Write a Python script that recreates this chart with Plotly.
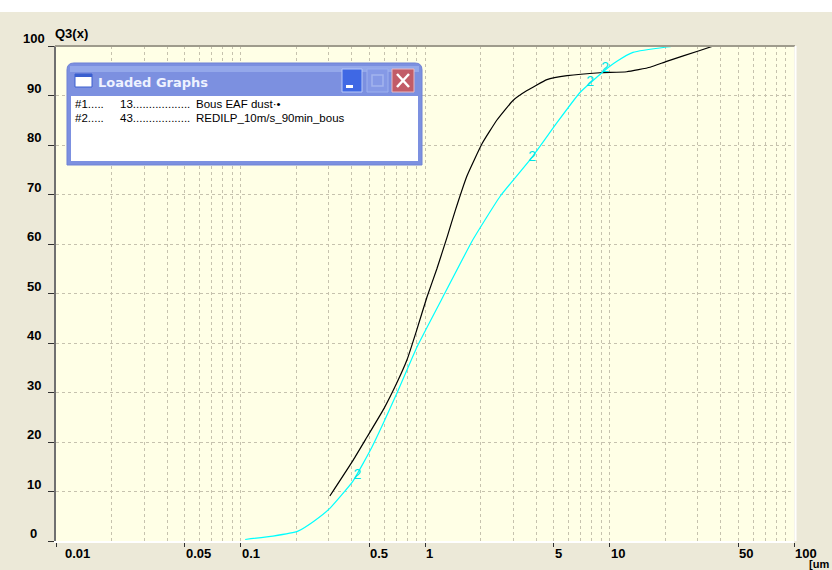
import math
import plotly.graph_objects as go

# ---------------- data ----------------
black_x = [0.305, 0.409, 0.485, 0.60, 0.705, 0.799, 0.90, 1.025, 1.16, 1.32, 1.46, 1.69, 2.04, 2.46, 3.0, 3.57, 4.58, 5.89, 8.87, 12.4, 16.6, 20.4, 30.9, 36.6]
black_q = [9.1, 16.4, 21.0, 26.8, 32.0, 36.6, 42.5, 49.3, 55.0, 61.5, 66.8, 73.8, 80.3, 85.1, 89.0, 91.0, 93.2, 94.0, 94.6, 94.8, 95.7, 96.9, 99.1, 100.0]

cyan_x = [0.106, 0.15, 0.205, 0.25, 0.305, 0.407, 0.516, 0.705, 0.905, 1.25, 1.82, 2.55, 3.80, 5.19, 6.92, 9.23, 10.97, 13.4, 20.4, 23.2]
cyan_q = [0.3, 1.0, 2.0, 4.0, 6.6, 12.1, 19.0, 29.9, 39.2, 49.3, 60.9, 69.6, 77.5, 84.5, 90.6, 94.8, 96.9, 98.7, 99.8, 100.0]

marker_x = [0.43, 3.81, 7.85, 9.48]
marker_q = [13.3, 77.5, 92.6, 95.4]
marker_text = ["2", "2", "2", "2"]

x_tick_vals = [0.01, 0.05, 0.1, 0.5, 1, 5, 10, 50, 100]
x_tick_text = ["0.01", "0.05", "0.1", "0.5", "1", "5", "10", "50", "100"]
x_grid_vals = [m * d for d in (0.01, 0.1, 1, 10) for m in range(1, 10)] + [100]
y_tick_vals = [0, 10, 20, 30, 40, 50, 60, 70, 80, 90, 100]
y_tick_text = ["0", "10", "20", "30", "40", "50", "60", "70", "80", "90", "100"]

legend_rows = [["#1.....", "13..................", "Bous EAF dust·•"],
               ["#2.....", "43..................", "REDILP_10m/s_90min_bous"]]

# ---------------- layout helpers ----------------
W, H = 832, 570
L, R, T, B = 56, 38, 46, 29
PW, PH = W - L - R, H - T - B


def X(px):
    return (px - L) / PW


def Y(py):
    return (H - B - py) / PH


GRID = "#C6C2AE"
LABEL_FONT = dict(family="Liberation Sans, Arial, sans-serif", size=13, color="#000000")

fig = go.Figure()
fig.add_trace(go.Scatter(x=black_x, y=black_q, mode="lines",
                         line=dict(color="#000000", width=1.2, shape="spline", smoothing=0.4),
                         showlegend=False, hoverinfo="skip"))
fig.add_trace(go.Scatter(x=cyan_x, y=cyan_q, mode="lines",
                         line=dict(color="#00FFFF", width=1.2, shape="spline", smoothing=0.4),
                         showlegend=False, hoverinfo="skip"))
fig.add_trace(go.Scatter(x=marker_x, y=marker_q, mode="text", text=marker_text,
                         textposition="middle center",
                         textfont=dict(family="Liberation Sans, Arial, sans-serif", size=14, color="#00E6E6"),
                         showlegend=False, hoverinfo="skip"))

annotations = []
for i, (v, t) in enumerate(zip(x_tick_vals, x_tick_text)):
    annotations.append(dict(x=math.log10(v), xref="x", y=Y(553), yref="paper",
                            text="<b>%s</b>" % t, showarrow=False, xanchor="left", yanchor="middle",
                            xshift=7 if i == 0 else -1, font=LABEL_FONT))
for v, t in zip(y_tick_vals, y_tick_text):
    annotations.append(dict(x=X(33.5), xref="paper", y=v, yref="y", text="<b>%s</b>" % t,
                            showarrow=False, xanchor="center", yanchor="middle", yshift=7.5,
                            font=LABEL_FONT))
annotations.append(dict(x=X(53), xref="paper", y=Y(33), yref="paper", text="<b>Q3(x)</b>",
                        showarrow=False, xanchor="left", yanchor="middle", font=LABEL_FONT))
annotations.append(dict(x=X(807), xref="paper", y=Y(564), yref="paper", text="<b>[um</b>",
                        showarrow=False, xanchor="left", yanchor="middle", font=dict(LABEL_FONT, size=11)))

# window title + rows
annotations.append(dict(x=X(96), xref="paper", y=Y(82), yref="paper", text="<b>Loaded Graphs</b>",
                        showarrow=False, xanchor="left", yanchor="middle",
                        font=dict(family="DejaVu Sans, Liberation Sans, sans-serif", size=13, color="#EEF2FF")))
col_px = [73, 118, 194]
row_py = [104, 118]
for r, row in enumerate(legend_rows):
    for c, txt in enumerate(row):
        annotations.append(dict(x=X(col_px[c]), xref="paper", y=Y(row_py[r]), yref="paper", text=txt,
                                showarrow=False, xanchor="left", yanchor="middle",
                                font=dict(family="Liberation Sans, Arial, sans-serif", size=11.5, color="#000000")))

shapes = []
# white band at very top
shapes.append(dict(type="rect", xref="paper", yref="paper", x0=X(0), x1=X(W), y0=Y(0), y1=Y(12),
                   fillcolor="#FFFFFF", line=dict(width=0), layer="below"))
# plot border top / right
shapes.append(dict(type="line", xref="paper", yref="paper", x0=X(55), x1=X(795), y0=Y(46), y1=Y(46),
                   line=dict(color="#9E9B8C", width=2)))
shapes.append(dict(type="line", xref="paper", yref="paper", x0=X(795.5), x1=X(795.5), y0=Y(46), y1=Y(541),
                   line=dict(color="#FFFFFF", width=2)))


def rounded_top(x0, y0, x1, y1, r):
    return ("M %f,%f L %f,%f Q %f,%f %f,%f L %f,%f Q %f,%f %f,%f L %f,%f Z" % (
        X(x0), Y(y1), X(x0), Y(y0 + r), X(x0), Y(y0), X(x0 + r), Y(y0),
        X(x1 - r), Y(y0), X(x1), Y(y0), X(x1), Y(y0 + r), X(x1), Y(y1)))


# window frame
shapes.append(dict(type="path", xref="paper", yref="paper", path=rounded_top(67, 63, 422, 165, 7),
                   fillcolor="#7C90E0", line=dict(color="#6F82D6", width=1)))
shapes.append(dict(type="rect", xref="paper", yref="paper", x0=X(70), x1=X(419), y0=Y(66), y1=Y(72),
                   fillcolor="#94A8EA", line=dict(width=0)))
shapes.append(dict(type="rect", xref="paper", yref="paper", x0=X(71), x1=X(418), y0=Y(96), y1=Y(161),
                   fillcolor="#FFFFFF", line=dict(width=0)))
# icon
shapes.append(dict(type="rect", xref="paper", yref="paper", x0=X(75), x1=X(92), y0=Y(74), y1=Y(87),
                   fillcolor="#FFFFFF", line=dict(color="#3A5FCF", width=1)))
shapes.append(dict(type="rect", xref="paper", yref="paper", x0=X(75), x1=X(92), y0=Y(74), y1=Y(77),
                   fillcolor="#3A5FCF", line=dict(width=0)))
# minimize
shapes.append(dict(type="rect", xref="paper", yref="paper", x0=X(342), x1=X(362), y0=Y(69), y1=Y(92),
                   fillcolor="#3F68E4", line=dict(color="#B8C8F8", width=1)))
shapes.append(dict(type="rect", xref="paper", yref="paper", x0=X(346), x1=X(353), y0=Y(85), y1=Y(88),
                   fillcolor="#FFFFFF", line=dict(width=0)))
# maximize (disabled)
shapes.append(dict(type="rect", xref="paper", yref="paper", x0=X(367), x1=X(388), y0=Y(69), y1=Y(92),
                   fillcolor="#8599E6", line=dict(color="#9DB0EE", width=1)))
shapes.append(dict(type="rect", xref="paper", yref="paper", x0=X(372), x1=X(383), y0=Y(75), y1=Y(86),
                   fillcolor="rgba(0,0,0,0)", line=dict(color="#A3B4EE", width=1.5)))
# close
shapes.append(dict(type="rect", xref="paper", yref="paper", x0=X(392), x1=X(414), y0=Y(69), y1=Y(92),
                   fillcolor="#C25C68", line=dict(color="#E8B8C0", width=1)))
shapes.append(dict(type="line", xref="paper", yref="paper", x0=X(397), x1=X(409), y0=Y(74), y1=Y(87),
                   line=dict(color="#FFFFFF", width=2.5)))
shapes.append(dict(type="line", xref="paper", yref="paper", x0=X(397), x1=X(409), y0=Y(87), y1=Y(74),
                   line=dict(color="#FFFFFF", width=2.5)))

fig.update_layout(
    width=W, height=H, autosize=False,
    margin=dict(l=L, r=R, t=T, b=B, pad=0),
    paper_bgcolor="#ECE9D8", plot_bgcolor="#FFFFE6",
    xaxis=dict(type="log", range=[-2, 2], tickmode="array", tickvals=x_tick_vals,
               showticklabels=False, ticks="outside", ticklen=4, tickcolor="#303030", tickwidth=1,
               showgrid=True, gridcolor=GRID, griddash="3px,3px", gridwidth=1,
               minor=dict(tickmode="array", tickvals=x_grid_vals, showgrid=True, gridcolor=GRID,
                          griddash="3px,3px", gridwidth=1, ticks=""),
               showline=True, linecolor="#FFFFFF", linewidth=2, zeroline=False, fixedrange=True),
    yaxis=dict(range=[0, 100], tickmode="array", tickvals=y_tick_vals, showticklabels=False,
               ticks="outside", ticklen=6, tickcolor="#303030", tickwidth=1,
               showgrid=True, gridcolor=GRID, griddash="3px,3px", gridwidth=1,
               showline=True, linecolor="#707070", linewidth=1.5, zeroline=False, fixedrange=True),
    annotations=annotations, shapes=shapes,
)

fig.write_html("out.html", config={"displayModeBar": False},
               post_script="document.body.style.margin='0';document.body.style.overflow='hidden';")
